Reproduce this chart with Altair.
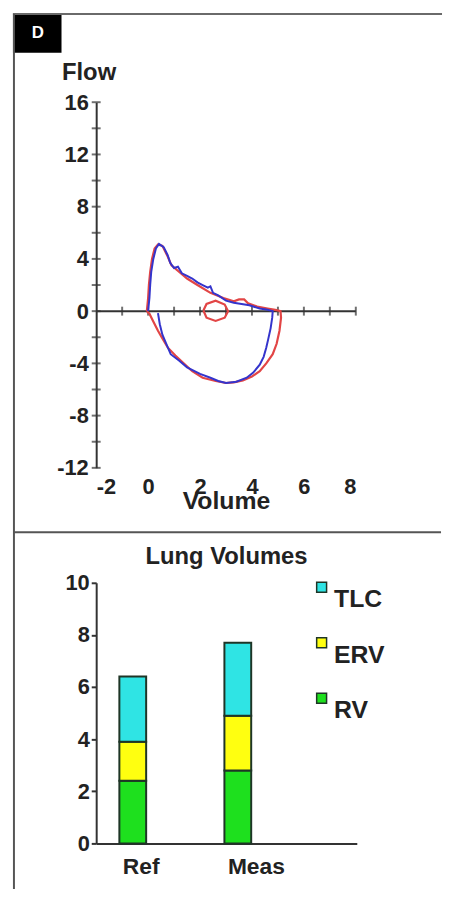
import altair as alt
import pandas as pd

FONT = "Liberation Sans"
DARK = "#222222"

# ---- Flow-volume loop ----
pred_vol = [-0.05, 0.0, 0.03, 0.08, 0.15, 0.25, 0.38, 0.55, 0.75, 0.9, 1.2, 1.5, 1.9, 2.4, 2.9, 3.3,
            3.5, 3.7, 3.85, 4.2, 4.6, 4.9, 5.1, 5.12, 5.06, 4.95, 4.8, 4.55, 4.3, 4.0, 3.65, 3.3,
            3.0, 2.6, 2.1, 1.7, 1.37, 1.05, 0.76, 0.55, 0.38, 0.2, 0.05, -0.05]
pred_flow = [0.0, 1.0, 2.0, 3.0, 4.0, 4.8, 5.1, 5.0, 4.2, 3.5, 3.0, 2.5, 2.0, 1.4, 1.0, 0.75,
             0.9, 0.9, 0.6, 0.35, 0.2, 0.1, 0.0, -0.5, -1.5, -2.5, -3.3, -4.0, -4.6, -5.0, -5.3, -5.45,
             -5.5, -5.35, -5.1, -4.6, -4.0, -3.4, -2.8, -2.1, -1.5, -0.8, -0.2, 0.0]
tidal_vol = [2.13, 2.25, 2.6, 2.95, 3.08, 2.95, 2.6, 2.25, 2.13]
tidal_flow = [0.05, 0.55, 0.8, 0.5, 0.0, -0.5, -0.75, -0.5, 0.05]
meas_vol = [0.0, 0.05, 0.08, 0.12, 0.2, 0.3, 0.42, 0.6, 0.75, 0.85, 1.0, 1.15, 1.3, 1.5, 1.7, 1.9,
            2.1, 2.3, 2.4, 2.5, 2.7, 3.0, 3.3, 3.6, 3.9, 4.3, 4.6, 4.8, 4.78, 4.72, 4.62, 4.55,
            4.45, 4.3, 4.05, 3.8, 3.4, 3.0, 2.7, 2.4, 2.0, 1.5, 1.2, 0.87, 0.7, 0.55, 0.45, 0.38]
meas_flow = [0.0, 1.0, 2.0, 3.0, 4.0, 4.8, 5.15, 4.9, 4.3, 3.7, 3.3, 3.4, 2.9, 2.7, 2.5, 2.2,
             2.0, 1.8, 1.9, 1.4, 1.2, 0.8, 0.65, 0.55, 0.45, 0.2, 0.1, 0.0, -0.5, -1.3, -2.2, -2.8,
             -3.5, -4.1, -4.7, -5.1, -5.4, -5.5, -5.35, -5.1, -4.8, -4.3, -3.8, -3.3, -2.5, -1.8, -1.0, -0.15]

vol_ticks = list(range(-1, 9))
flow_ticks = list(range(-12, 17, 2))
vol_labels = [-2, 0, 2, 4, 6, 8]
flow_labels = [-12, -8, -4, 0, 4, 8, 12, 16]

# ---- Lung volumes (stacked segments) ----
categories = ["Ref", "Meas"]
rv = [2.4, 2.8]
erv = [1.5, 2.1]
tlc_part = [2.5, 2.8]
parts = ["TLC", "ERV", "RV"]
part_colors = ["#2FE4E4", "#FFFF10", "#1EE01E"]

PLAIN = "'' + datum.value"


def loop_df(vols, flows, loop):
    return pd.DataFrame({"volume": vols, "flow": flows, "loop": loop,
                         "seq": list(range(len(vols)))})


red_df = pd.concat([loop_df(pred_vol, pred_flow, "forced"), loop_df(tidal_vol, tidal_flow, "tidal")])
blue_df = loop_df(meas_vol, meas_flow, "forced")

xscale = alt.Scale(domain=[-2, 8], nice=False, zero=False)
yscale = alt.Scale(domain=[-12, 16], nice=False, zero=False)
xaxis = alt.Axis(values=vol_labels, domain=False, ticks=False, grid=False, labelPadding=9,
                 labelFontSize=22, labelExpr=PLAIN, title="Volume", titleFontSize=25,
                 titleY=41, titleBaseline="alphabetic")
yaxis = alt.Axis(values=flow_labels, domain=True, domainWidth=2, ticks=False, grid=False,
                 labelPadding=8, labelFontSize=22, labelExpr=PLAIN, title="Flow",
                 titleFontSize=24, titleAngle=0, titleAlign="left", titleBaseline="alphabetic",
                 titleX=-35, titleY=-23)


def X(field=None, datum=None):
    if datum is not None:
        return alt.X(datum=datum, type="quantitative", scale=xscale, axis=xaxis)
    return alt.X(field, type="quantitative", scale=xscale, axis=xaxis)


def Y(field=None, datum=None):
    if datum is not None:
        return alt.Y(datum=datum, type="quantitative", scale=yscale, axis=yaxis)
    return alt.Y(field, type="quantitative", scale=yscale, axis=yaxis)


one = pd.DataFrame({"k": [0]})

zero_line = alt.Chart(one).mark_rule(color="#333", strokeWidth=2).encode(y=Y(datum=0))
xt = alt.Chart(pd.DataFrame({"volume": vol_ticks})).mark_tick(
    orient="vertical", size=9, thickness=2, color="#333").encode(x=X("volume"), y=Y(datum=0))
yt = alt.Chart(pd.DataFrame({"flow": flow_ticks})).mark_tick(
    orient="horizontal", size=9, thickness=2, color="#333").encode(y=Y("flow"), x=X(datum=-2))
red = alt.Chart(red_df).mark_line(color="#E24545", strokeWidth=2.2).encode(
    x=X("volume"), y=Y("flow"), detail="loop:N", order="seq:Q")
blue = alt.Chart(blue_df).mark_line(color="#3434CC", strokeWidth=2).encode(
    x=X("volume"), y=Y("flow"), detail="loop:N", order="seq:Q")

# decorations (frame, panel letter, separator)
d_box = alt.Chart(one).mark_rect(color="black").encode(
    x=alt.value(-84), x2=alt.value(-35), y=alt.value(-90), y2=alt.value(-50))
d_txt = alt.Chart(one).mark_text(text="D", color="white", font=FONT, fontSize=17,
                                  fontWeight="bold").encode(x=alt.value(-59), y=alt.value(-70))
top_border = alt.Chart(one).mark_rule(color="#6a6a6a", strokeWidth=2).encode(
    x=alt.value(-84), x2=alt.value(349), y=alt.value(-89))
left_border = alt.Chart(one).mark_rule(color="#555", strokeWidth=2).encode(
    x=alt.value(-83), y=alt.value(-89), y2=alt.value(794))
separator = alt.Chart(one).mark_rule(color="#555", strokeWidth=2).encode(
    x=alt.value(-83), x2=alt.value(348), y=alt.value(434))

top = alt.layer(zero_line, xt, yt, red, blue, d_box, d_txt, top_border, left_border,
                separator).properties(width=262, height=369)

bar_rows = []
for i, c in enumerate(categories):
    for part, vals, o in [("RV", rv, 0), ("ERV", erv, 1), ("TLC", tlc_part, 2)]:
        bar_rows.append({"group": c, "part": part, "value": vals[i], "o": o})
bar_df = pd.DataFrame(bar_rows)

bottom = alt.Chart(bar_df).mark_bar(stroke="#1E3526", strokeWidth=2).encode(
    x=alt.X("group:N", sort=categories,
            scale=alt.Scale(paddingInner=0.745, paddingOuter=0.613, align=0.18),
            axis=alt.Axis(title=None, domain=True, domainWidth=2, ticks=False, labelAngle=0,
                          labelAlign="left", labelOffset=-10, labelPadding=12,
                          labelFontSize=23)),
    y=alt.Y("value:Q", stack="zero", scale=alt.Scale(domain=[0, 10], nice=False),
            axis=alt.Axis(title=None, values=[0, 2, 4, 6, 8, 10], domain=True, domainWidth=2,
                          ticks=True, tickSize=5, tickWidth=2, labelPadding=2,
                          labelFontSize=22, labelExpr=PLAIN, grid=False)),
    color=alt.Color("part:N", scale=alt.Scale(domain=parts, range=part_colors),
                    legend=alt.Legend(title=None, orient="none", legendX=215, legendY=-8,
                                      symbolType="square", symbolSize=100,
                                      symbolStrokeColor="#1E3526", symbolStrokeWidth=1.5,
                                      labelFontSize=25, labelFont=FONT, labelFontWeight="bold",
                                      labelColor=DARK, labelBaseline="top", labelOffset=0,
                                      rowPadding=18)),
    order=alt.Order("o:Q"),
).properties(width=263, height=263,
             title=alt.TitleParams("Lung Volumes", fontSize=24, font=FONT, fontWeight="bold",
                                   color=DARK, frame="group", baseline="alphabetic",
                                   offset=-16))

chart = alt.vconcat(top, bottom, spacing=116, bounds="flush").resolve_scale(
    color="independent").resolve_legend(color="independent").properties(
    padding={"left": 3, "top": 0, "right": 0, "bottom": 0}
).configure_view(stroke="transparent").configure_axis(
    labelFont=FONT, titleFont=FONT, labelFontWeight="bold", titleFontWeight="bold",
    labelColor=DARK, titleColor=DARK, domainColor="#333", tickColor="#333"
)

chart.save("out.html", embed_options={"renderer": "svg", "actions": False})
